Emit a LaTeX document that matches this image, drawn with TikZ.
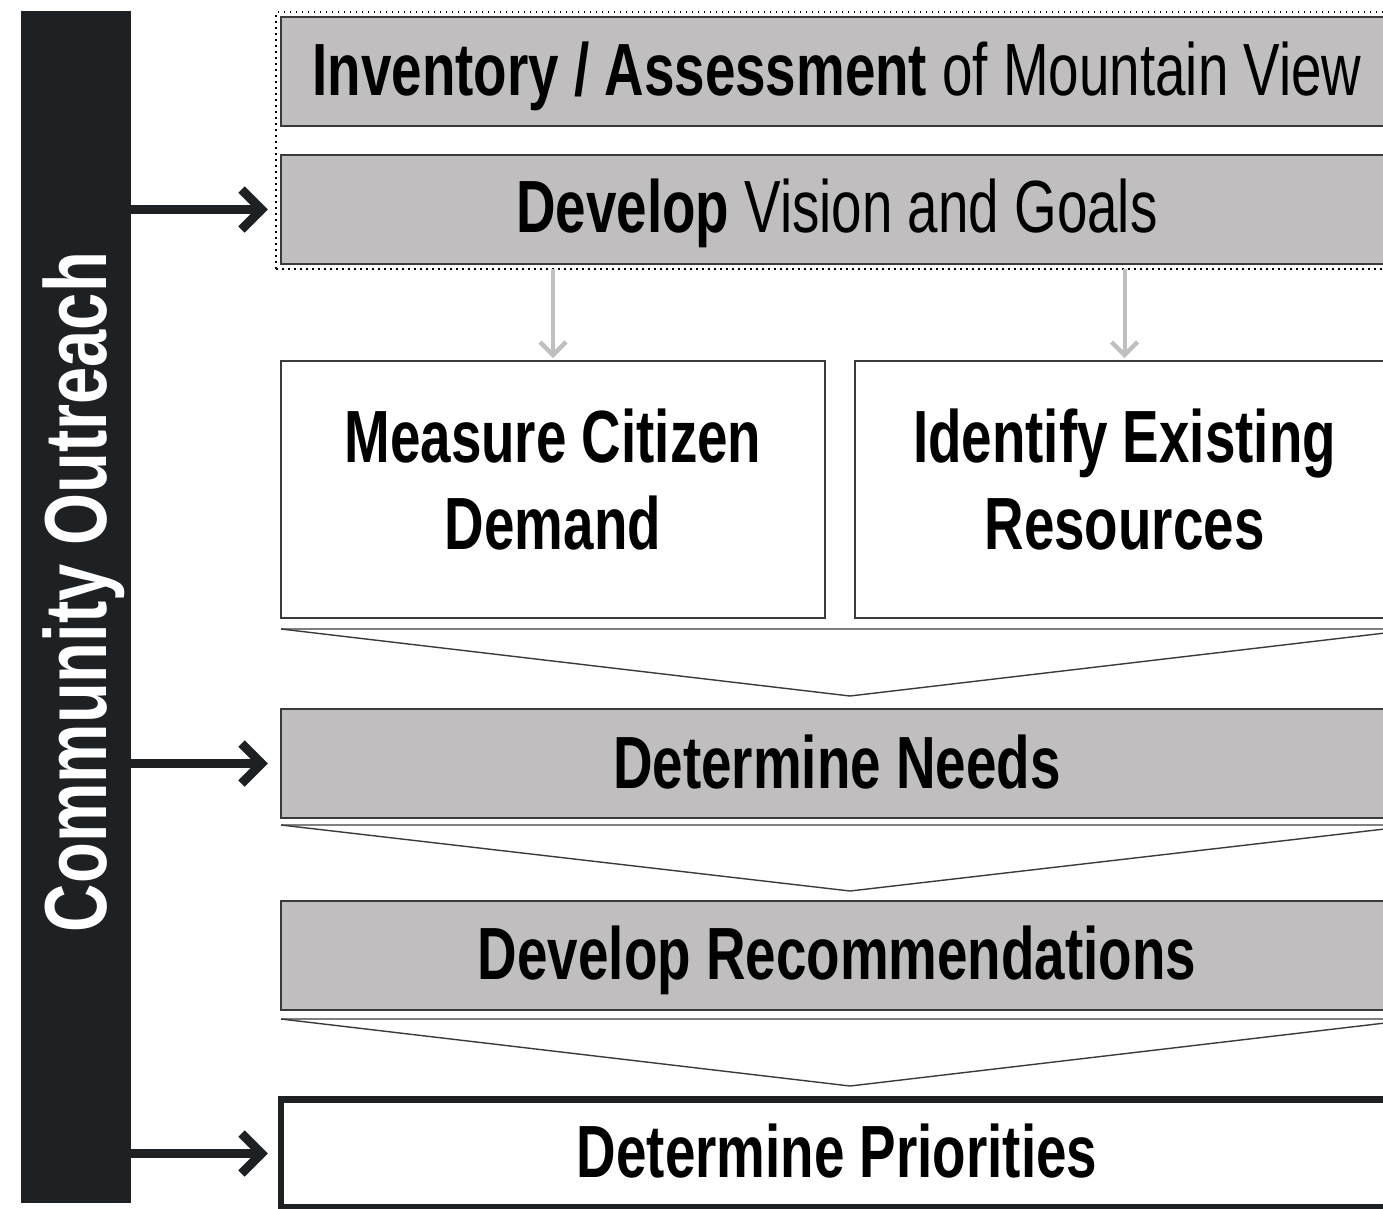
\documentclass[tikz,border=0pt]{standalone}
\usepackage{fontspec}
\setmainfont[FakeStretch=0.74]{Liberation Sans}
\newfontfamily\barfont[FakeStretch=0.76]{Liberation Sans}
\definecolor{barc}{HTML}{1E2124}
\definecolor{boxgray}{HTML}{C0BEBF}
\definecolor{edgec}{HTML}{3A3A3A}
\definecolor{lightarr}{HTML}{C0C0C0}
\definecolor{ftopc}{HTML}{808080}
\begin{document}
\begin{tikzpicture}[x=1pt,y=-1pt,
  barshape/.style={fill=barc, draw=none, minimum width=110pt, minimum height=1192pt, inner sep=0pt, outer sep=0pt},
  barlabel/.style={text=white, rotate=90, anchor=base, inner sep=0pt, font=\barfont\bfseries\fontsize{88}{96}\selectfont},
  graybox/.style={draw=edgec, line width=1.6pt, fill=boxgray, minimum width=1112pt, minimum height=109pt, inner sep=0pt, outer sep=0pt},
  whitebox/.style={draw=edgec, line width=1.6pt, fill=white, minimum height=257pt, inner sep=0pt, outer sep=0pt},
  finalbox/.style={draw=barc, line width=6.5pt, fill=white, minimum width=1112pt, minimum height=108pt, inner sep=0pt, outer sep=0pt},
  dotframe/.style={draw=black, line width=1.5pt, dash pattern=on 1.5pt off 4.5pt, minimum width=1124pt, minimum height=257pt, inner sep=0pt, outer sep=0pt},
  lbl/.style={anchor=base, inner sep=0pt, font=\fontsize{74}{80}\selectfont},
  twoline/.style={anchor=north, inner sep=0pt, align=center, font=\bfseries\fontsize{74}{87}\selectfont},
  garrow/.style={draw=lightarr, line width=4pt},
  gchev/.style={draw=lightarr, line width=4.5pt, line join=miter, miter limit=10},
  barrow/.style={draw=barc, line width=9.5pt},
  chev/.style={draw=barc, line width=9pt, line join=miter, miter limit=10},
  ftop/.style={draw=ftopc, line width=1.6pt},
  fslant/.style={draw=edgec, line width=1.4pt, line join=miter}
]
\useasboundingbox (0,0) rectangle (1383,1208);
\clip (0,0) rectangle (1383,1208);

% left bar
\node[barshape] (bar) at (76,607) {};
\node[barlabel] (barlbl) at (106,592) {Community Outreach};

% dotted frame and top boxes
\node[dotframe] (frame) at (838,140.5) {};
\node[graybox] (box1) at (837,71.5) {};
\node[graybox] (box2) at (837,209.5) {};
\node[lbl] (t1) at (837,95) {\textbf{Inventory / Assessment} of Mountain View};
\node[lbl] (t2) at (837,232) {\textbf{Develop} Vision and Goals};

% white boxes
\node[whitebox, minimum width=544pt] (wb1) at (553,489.5) {};
\node[whitebox, minimum width=539pt] (wb2) at (1124.5,489.5) {};
\node[twoline] (t3) at (553,409) {Measure Citizen\\Demand};
\node[twoline] (t4) at (1124.5,409) {Identify Existing\\Resources};

% gray arrows
\coordinate (g1) at ([yshift=6pt]wb1.north);
\coordinate (g2) at ([yshift=6pt]wb2.north);
\draw[garrow] (wb1.north |- frame.south) -- (g1);
\draw[gchev] ([xshift=-13pt,yshift=13pt]g1) -- (g1) -- ([xshift=13pt,yshift=13pt]g1);
\draw[garrow] (wb2.north |- frame.south) -- (g2);
\draw[gchev] ([xshift=-13pt,yshift=13pt]g2) -- (g2) -- ([xshift=13pt,yshift=13pt]g2);

% funnel 1
\coordinate (f1l) at (281,629);
\coordinate (f1r) at (1419,629);
\coordinate (f1a) at (850,696);
\draw[ftop] (f1l) -- (f1r);
\draw[fslant] (f1l) -- (f1a) -- (f1r);

% determine needs
\node[graybox] (box3) at (837,763.5) {};
\node[lbl, font=\bfseries\fontsize{74}{80}\selectfont] (t5) at (837,788) {Determine Needs};

% funnel 2
\coordinate (f2l) at (281,825);
\coordinate (f2r) at (1419,825);
\coordinate (f2a) at (850,891);
\draw[ftop] (f2l) -- (f2r);
\draw[fslant] (f2l) -- (f2a) -- (f2r);

% develop recommendations
\node[graybox] (box4) at (837,955.5) {};
\node[lbl, font=\bfseries\fontsize{74}{80}\selectfont] (t6) at (837,979) {Develop Recommendations};

% funnel 3
\coordinate (f3l) at (281,1019);
\coordinate (f3r) at (1419,1019);
\coordinate (f3a) at (850,1086);
\draw[ftop] (f3l) -- (f3r);
\draw[fslant] (f3l) -- (f3a) -- (f3r);

% determine priorities
\node[finalbox] (box5) at (837,1153.5) {};
\node[lbl, font=\bfseries\fontsize{74}{80}\selectfont] (t7) at (837,1177) {Determine Priorities};

% outreach arrows
\coordinate (a1) at ([xshift=-19.5pt]box2.west);
\coordinate (a2) at ([xshift=-19.5pt]box3.west);
\coordinate (a3) at ([xshift=-19.5pt]box5.west |- box5.center);
\draw[barrow] (bar.east |- box2.west) -- (a1);
\draw[chev] ([xshift=-20pt,yshift=20pt]a1) -- (a1) -- ([xshift=-20pt,yshift=-20pt]a1);
\draw[barrow] (bar.east |- box3.west) -- (a2);
\draw[chev] ([xshift=-20pt,yshift=20pt]a2) -- (a2) -- ([xshift=-20pt,yshift=-20pt]a2);
\draw[barrow] (bar.east |- box5.west) -- (a3);
\draw[chev] ([xshift=-20pt,yshift=20pt]a3) -- (a3) -- ([xshift=-20pt,yshift=-20pt]a3);
\end{tikzpicture}
\end{document}
